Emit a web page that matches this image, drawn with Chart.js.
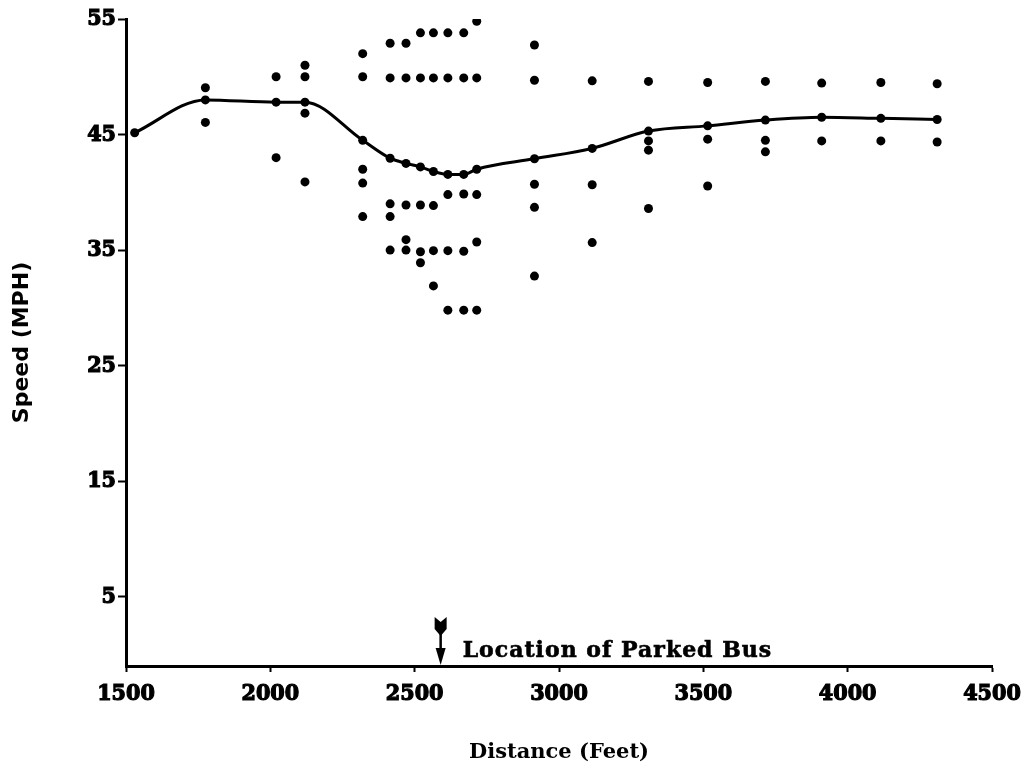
<!DOCTYPE html>
<html>
<head>
<meta charset="utf-8">
<script src="https://cdn.jsdelivr.net/npm/chart.js@4.4.1/dist/chart.umd.min.js"></script>
<style>
  html, body { margin: 0; padding: 0; background: #fff; }
  #wrap { width: 1032px; height: 771px; position: relative; }
</style>
</head>
<body>
<div id="wrap"><canvas id="c"></canvas></div>
<script>
// ---- data ----
const obsDistance = [
  1775, 1775,
  2020, 2020,
  2120, 2120, 2120, 2120,
  2320, 2320, 2320, 2320, 2320,
  2415, 2415, 2415, 2415, 2415,
  2470, 2470, 2470, 2470, 2470,
  2520, 2520, 2520, 2520, 2520,
  2565, 2565, 2565, 2565, 2565,
  2615, 2615, 2615, 2615, 2615,
  2670, 2670, 2670, 2670, 2670,
  2715, 2715, 2715, 2715, 2715,
  2915, 2915, 2915, 2915, 2915,
  3115, 3115, 3115,
  3310, 3310, 3310, 3310,
  3515, 3515, 3515,
  3715, 3715, 3715,
  3910, 3910,
  4115, 4115,
  4310, 4310
];
const obsSpeed = [
  49.05, 46.05,
  50.0, 43.0,
  51.0, 50.0, 46.85, 40.9,
  52.0, 50.0, 42.0, 40.8, 37.9,
  52.9, 49.9, 39.0, 37.9, 35.0,
  52.9, 49.9, 38.9, 35.9, 35.0,
  53.8, 49.9, 38.9, 34.85, 33.9,
  53.8, 49.9, 38.85, 34.95, 31.9,
  53.8, 49.9, 39.8, 34.95, 29.8,
  53.8, 49.9, 39.85, 34.9, 29.8,
  54.8, 49.9, 39.8, 35.7, 29.8,
  52.75, 49.7, 40.7, 38.7, 32.75,
  49.65, 40.65, 35.65,
  49.6, 44.45, 43.65, 38.6,
  49.5, 44.6, 40.55,
  49.6, 44.5, 43.5,
  49.45, 44.45,
  49.5, 44.45,
  49.4, 44.35
];
const curveDistance = [1530, 1775, 2020, 2120, 2320, 2415, 2470, 2520, 2565, 2615, 2670, 2715, 2915, 3115, 3310, 3515, 3715, 3910, 4115, 4310];
const curveSpeed    = [45.15, 48.0, 47.8, 47.8, 44.5, 42.95, 42.5, 42.2, 41.8, 41.55, 41.55, 42.0, 42.9, 43.8, 45.3, 45.75, 46.25, 46.5, 46.4, 46.3];
const xTickValues = [1500, 2000, 2500, 3000, 3500, 4000, 4500];
const yTickValues = [5, 15, 25, 35, 45, 55];
const busLocation = 2590;
const busLabel = 'Location of Parked Bus';
const xTitle = 'Distance (Feet)';
const yTitle = 'Speed (MPH)';

const scatterPoints = obsDistance.map((d, i) => ({ x: d, y: obsSpeed[i] }));
const curvePoints = curveDistance.map((d, i) => ({ x: d, y: curveSpeed[i] }));

const busMarker = {
  id: 'busMarker',
  afterDatasetsDraw(chart) {
    const { ctx, chartArea, scales } = chart;
    const px = scales.x.getPixelForValue(busLocation);
    const yb = chartArea.bottom;
    ctx.save();
    ctx.fillStyle = '#000';
    ctx.strokeStyle = '#000';
    ctx.lineWidth = 2.5;
    ctx.beginPath();
    ctx.moveTo(px, yb - 40);
    ctx.lineTo(px, yb - 14);
    ctx.stroke();
    ctx.beginPath();
    ctx.moveTo(px - 5, yb - 18);
    ctx.lineTo(px + 5, yb - 18);
    ctx.lineTo(px, yb - 1);
    ctx.closePath();
    ctx.fill();
    ctx.beginPath();
    ctx.moveTo(px - 6, yb - 49);
    ctx.lineTo(px, yb - 44);
    ctx.lineTo(px + 6, yb - 49);
    ctx.lineTo(px + 6, yb - 37);
    ctx.lineTo(px, yb - 30);
    ctx.lineTo(px - 6, yb - 37);
    ctx.closePath();
    ctx.fill();
    ctx.font = 'bold 22px "DejaVu Serif", serif';
    try { ctx.letterSpacing = '1px'; } catch (e) {}
    ctx.textAlign = 'left';
    ctx.textBaseline = 'alphabetic';
    ctx.lineWidth = 0.6;
    ctx.fillText(busLabel, px + 22, yb - 9);
    ctx.strokeText(busLabel, px + 22, yb - 9);
    ctx.restore();
  }
};

const tickFont = { family: '"DejaVu Serif Condensed", "DejaVu Serif", serif', weight: 'bold', size: 23 };

new Chart(document.getElementById('c'), {
  type: 'scatter',
  data: {
    datasets: [
      {
        label: 'Observed speed',
        data: scatterPoints,
        pointRadius: 4.5,
        pointHoverRadius: 4.5,
        pointBackgroundColor: '#000',
        pointBorderColor: '#000',
        pointBorderWidth: 0,
        showLine: false
      },
      {
        label: 'Mean speed',
        data: curvePoints,
        showLine: true,
        cubicInterpolationMode: 'monotone',
        borderColor: '#000',
        borderWidth: 3,
        pointRadius: 4.5,
        pointBackgroundColor: '#000',
        pointBorderColor: '#000',
        pointBorderWidth: 0,
        fill: false
      }
    ]
  },
  options: {
    responsive: true,
    maintainAspectRatio: false,
    animation: false,
    layout: { padding: { left: 0, right: 40, top: 19, bottom: 0 } },
    plugins: {
      legend: { display: false },
      tooltip: { enabled: false },
      title: { display: false }
    },
    scales: {
      x: {
        type: 'linear',
        min: 1500,
        max: 4500,
        afterBuildTicks: s => { s.ticks = xTickValues.map(v => ({ value: v })); },
        afterFit: s => { s.height = 105; },
        border: { display: true, color: '#000', width: 3 },
        grid: { drawOnChartArea: false, drawTicks: true, tickLength: 6, tickColor: '#000', tickWidth: 2 },
        ticks: { color: '#000', font: tickFont, padding: 8, maxRotation: 0, autoSkip: false,
                 textStrokeColor: '#000', textStrokeWidth: 1.2, callback: v => String(v) },
        title: {
          display: true,
          text: xTitle,
          color: '#000',
          font: { family: '"DejaVu Serif", serif', weight: 'bold', size: 21 },
          padding: { top: 0, bottom: 6 }
        }
      },
      y: {
        type: 'linear',
        min: -1,
        max: 55,
        afterBuildTicks: s => { s.ticks = yTickValues.map(v => ({ value: v })); },
        afterFit: s => { s.width = 126; },
        border: { display: true, color: '#000', width: 3 },
        grid: { drawOnChartArea: false, drawTicks: true, tickLength: 8, tickColor: '#000', tickWidth: 2 },
        ticks: { color: '#000', font: tickFont, padding: 2, autoSkip: false,
                 textStrokeColor: '#000', textStrokeWidth: 1.2, callback: v => String(v) },
        title: {
          display: true,
          text: yTitle,
          color: '#000',
          font: { family: '"DejaVu Sans", sans-serif', weight: 'bold', size: 22 },
          padding: { top: 9, bottom: 0 }
        }
      }
    }
  },
  plugins: [busMarker]
});
</script>
</body>
</html>
